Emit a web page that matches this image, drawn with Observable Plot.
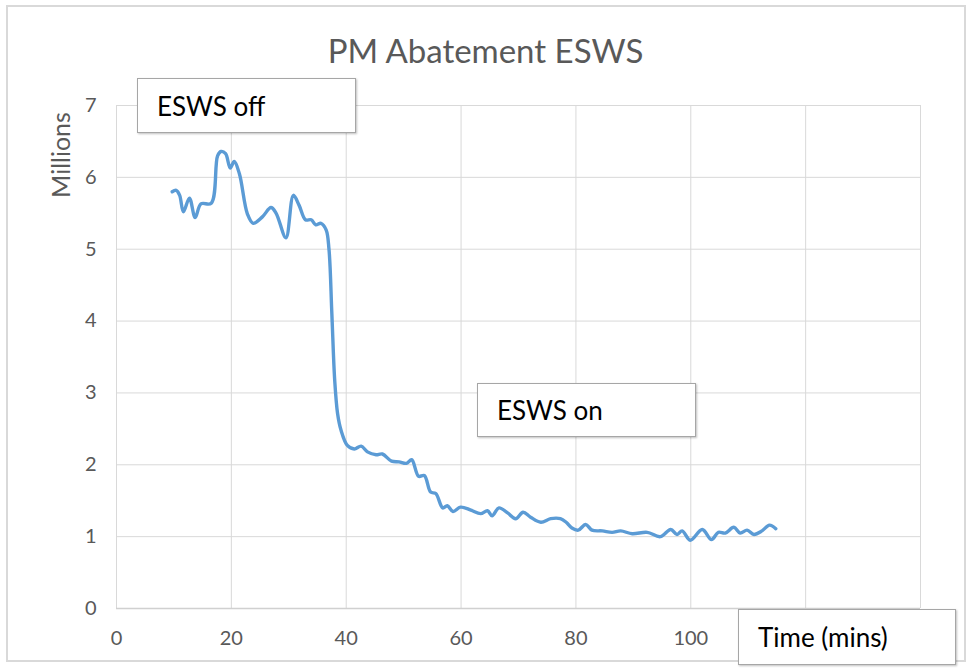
<!DOCTYPE html>
<html>
<head>
<meta charset="utf-8">
<script src="https://cdn.jsdelivr.net/npm/d3@7"></script>
<script src="https://cdn.jsdelivr.net/npm/@observablehq/plot@0.6"></script>
<style>
  body { margin: 0; background: #fff; }
  #wrap { position: relative; width: 971px; height: 669px; font-family: Lato, "Open Sans", sans-serif; }
  #wrap svg { position: absolute; left: 0; top: 0; }
  .frame { position: absolute; left: 6px; top: 5px; width: 960px; height: 657px; border: 2px solid #d9d9d9; box-sizing: border-box; }
  .title { position: absolute; left: 0; width: 971px; top: 30px; text-align: center; font-size: 33px; color: #595959; }
  .ylab { position: absolute; left: 60px; top: 155px; transform: translate(-50%, -50%) rotate(-90deg); font-size: 25px; color: #595959; white-space: nowrap; }
  .box { position: absolute; background: #fff; border: 1.5px solid #a6a6a6; box-shadow: 1px 1px 2px rgba(0,0,0,0.25); box-sizing: border-box; font-size: 26px; color: #000; padding-left: 19px; display: flex; align-items: center; }
</style>
</head>
<body>
<div id="wrap"></div>
<script>
const timeMins = [9.7,10.4,11.0,11.65,12.7,13.7,14.7,16.5,17.6,18.2,19.0,19.8,20.5,21.4,22.8,23.8,25.4,26.9,27.8,29.5,30.8,31.8,32.9,33.9,34.7,35.6,36.5,37.0,37.5,38.0,38.5,39.1,40.2,41.4,42.6,43.7,45.2,46.3,47.9,49.2,50.5,51.4,52.6,53.6,54.7,55.6,56.8,57.6,58.6,59.9,61.7,63.4,64.6,65.4,66.6,68.1,69.5,70.8,72.1,73.9,75.6,77.3,78.3,79.3,80.4,81.7,82.8,84.6,86.3,87.8,89.8,92.4,94.7,96.5,97.6,98.5,99.9,102.0,103.6,104.8,106.0,107.5,108.6,109.8,111.0,112.4,113.7,114.8];
const pmMillions = [5.80,5.82,5.75,5.52,5.71,5.44,5.63,5.64,6.30,6.36,6.33,6.13,6.22,6.05,5.49,5.36,5.45,5.58,5.50,5.16,5.75,5.61,5.41,5.41,5.34,5.36,5.27,5.0,4.10,3.17,2.71,2.48,2.27,2.22,2.26,2.18,2.14,2.15,2.05,2.04,2.02,2.07,1.84,1.85,1.62,1.60,1.40,1.43,1.35,1.41,1.37,1.32,1.36,1.29,1.40,1.33,1.25,1.34,1.27,1.20,1.25,1.25,1.20,1.12,1.09,1.17,1.09,1.08,1.06,1.08,1.04,1.06,1.00,1.10,1.03,1.08,0.95,1.10,0.96,1.06,1.05,1.13,1.05,1.09,1.03,1.08,1.16,1.11];
const xTicks = [0, 20, 40, 60, 80, 100];
const xGrid = [0, 20, 40, 60, 80, 100, 120, 140];
const yTicks = [0, 1, 2, 3, 4, 5, 6, 7];
const titleText = "PM Abatement ESWS";
const yLabel = "Millions";
const xLabel = "Time (mins)";
const noteOff = "ESWS off";
const noteOn = "ESWS on";

const data = timeMins.map((t, i) => ({t, v: pmMillions[i]}));

const chart = Plot.plot({
  width: 971,
  height: 669,
  marginLeft: 116,
  marginRight: 51,
  marginTop: 105,
  marginBottom: 61,
  style: {fontFamily: "Lato, 'Open Sans', sans-serif", fontSize: "20px", color: "#595959", background: "transparent"},
  x: {domain: [0, 140], ticks: xTicks, tickFormat: d => String(d), tickSize: 0, tickPadding: 22, label: null},
  y: {domain: [0, 7], ticks: yTicks, tickFormat: d => String(d), tickSize: 0, tickPadding: 20, label: null},
  marks: [
    Plot.gridX(xGrid, {stroke: "#d9d9d9", strokeOpacity: 1, strokeWidth: 1}),
    Plot.gridY(yTicks, {stroke: "#d9d9d9", strokeOpacity: 1, strokeWidth: 1}),
    Plot.ruleY([0], {stroke: "#d0d0d0", strokeWidth: 1.5}),
    Plot.line(data, {x: "t", y: "v", stroke: "#5B9BD5", strokeWidth: 3.4, curve: "catmull-rom"})
  ]
});

const wrap = document.getElementById("wrap");
const frame = document.createElement("div"); frame.className = "frame"; wrap.appendChild(frame);
wrap.appendChild(chart);
const title = document.createElement("div"); title.className = "title"; title.textContent = titleText; wrap.appendChild(title);
const yl = document.createElement("div"); yl.className = "ylab"; yl.textContent = yLabel; wrap.appendChild(yl);
function box(text, l, t, w, h) {
  const b = document.createElement("div"); b.className = "box"; b.textContent = text;
  Object.assign(b.style, {left: l + "px", top: t + "px", width: w + "px", height: h + "px"});
  wrap.appendChild(b);
}
box(noteOff, 137, 78, 219, 55);
box(noteOn, 477, 383, 219, 54);
box(xLabel, 738, 609, 218, 56);
</script>
</body>
</html>
